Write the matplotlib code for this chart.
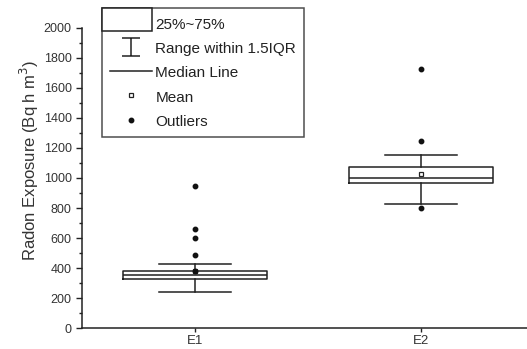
import numpy as np
import matplotlib.pyplot as plt
from matplotlib.patches import Rectangle
from matplotlib.lines import Line2D
from matplotlib.path import Path
from matplotlib.legend_handler import HandlerPatch
from matplotlib.ticker import MultipleLocator

plt.rcParams['font.family'] = ['Liberation Sans', 'DejaVu Sans']

# values
groups = ['E1', 'E2']
q1 = [324, 968]
median = [354, 999]
q3 = [381, 1074]
whisker_low = [239, 830]
whisker_high = [427, 1156]
means = [383, 1028]
outliers = [[383, 487, 603, 660, 946], [799, 1245, 1723]]

stats = []
for i, name in enumerate(groups):
    stats.append(dict(label=name, q1=q1[i], med=median[i], q3=q3[i],
                      whislo=whisker_low[i], whishi=whisker_high[i],
                      mean=means[i], fliers=outliers[i]))

fig = plt.figure(figsize=(5.27, 3.49), dpi=100)
ax = fig.add_axes([0.156, 0.06, 0.844, 0.86])

art = ax.bxp(stats, positions=[1, 2], widths=0.64, showmeans=True,
             showfliers=True,
             boxprops=dict(color='#222222', linewidth=1.1),
             whiskerprops=dict(color='#222222', linewidth=1.1),
             capprops=dict(color='#222222', linewidth=1.1),
             capwidths=0.32,
             medianprops=dict(color='#222222', linewidth=1.1),
             meanprops=dict(marker='s', markersize=3.5, markerfacecolor='white',
                            markeredgecolor='#222222', markeredgewidth=0.9),
             flierprops=dict(marker='o', markersize=3.2,
                             markerfacecolor='#111111',
                             markeredgecolor='#111111'))
for f in art['fliers']:
    f.set_zorder(5)

ax.set_xlim(0.5, 2.47)
ax.set_ylim(0, 2000)
ax.yaxis.set_major_locator(MultipleLocator(200))
ax.yaxis.set_minor_locator(MultipleLocator(100))
ax.spines['top'].set_visible(False)
ax.spines['right'].set_visible(False)
for s in ['left', 'bottom']:
    ax.spines[s].set_linewidth(1.1)
    ax.spines[s].set_color('#222222')
ax.tick_params(axis='y', which='major', direction='out', length=4, width=1,
               labelsize=9, labelcolor='#333333', color='#222222')
ax.tick_params(axis='y', which='minor', direction='out', length=2, width=1,
               color='#222222')
ax.tick_params(axis='x', direction='out', length=3, width=1, labelsize=9.5,
               pad=2, labelcolor='#333333', color='#222222')
ax.set_ylabel('Radon Exposure (Bq h m$^{3}$)', fontsize=12, color='#333333')
ax.yaxis.set_label_coords(-0.092, 0.56)

# legend handles
ibar = Path([(-1, 1), (1, 1), (0, 1), (0, -1), (-1, -1), (1, -1)],
            [Path.MOVETO, Path.LINETO, Path.MOVETO, Path.LINETO,
             Path.MOVETO, Path.LINETO])
h_box = Rectangle((0, 0), 1, 1, facecolor='white', edgecolor='#222222',
                  linewidth=1.1)
h_range = Line2D([], [], linestyle='none', marker=ibar, markersize=13,
                 markeredgecolor='#222222', markeredgewidth=1.1)
h_med = Line2D([], [], color='#222222', linewidth=1.1)
h_mean = Line2D([], [], linestyle='none', marker='s', markersize=3.5,
                markerfacecolor='white', markeredgecolor='#222222',
                markeredgewidth=0.9)
h_out = Line2D([], [], linestyle='none', marker='o', markersize=3.2,
               markerfacecolor='#111111', markeredgecolor='#111111')


def tall_box(legend, orig_handle, xdescent, ydescent, width, height, fontsize):
    pad = 0.48 * fontsize
    return Rectangle((-xdescent - pad, -ydescent), width + pad, height * 1.5)


leg = fig.legend([h_box, h_range, h_med, h_mean, h_out],
                 ['25%~75%', 'Range within 1.5IQR', 'Median Line', 'Mean',
                  'Outliers'],
                 loc='upper left', bbox_to_anchor=(102 / 527, 1 - 8 / 349),
                 fontsize=11, frameon=True, fancybox=False, borderpad=0.5,
                 borderaxespad=0, handlelength=2.8, handletextpad=0.2,
                 labelspacing=0.55, handleheight=1.2,
                 handler_map={Rectangle: HandlerPatch(patch_func=tall_box)})
leg.get_frame().set_edgecolor('#222222')
leg.get_frame().set_linewidth(1.1)
for t in leg.get_texts():
    t.set_color('#222222')

fig.savefig('out.png', dpi=100)
